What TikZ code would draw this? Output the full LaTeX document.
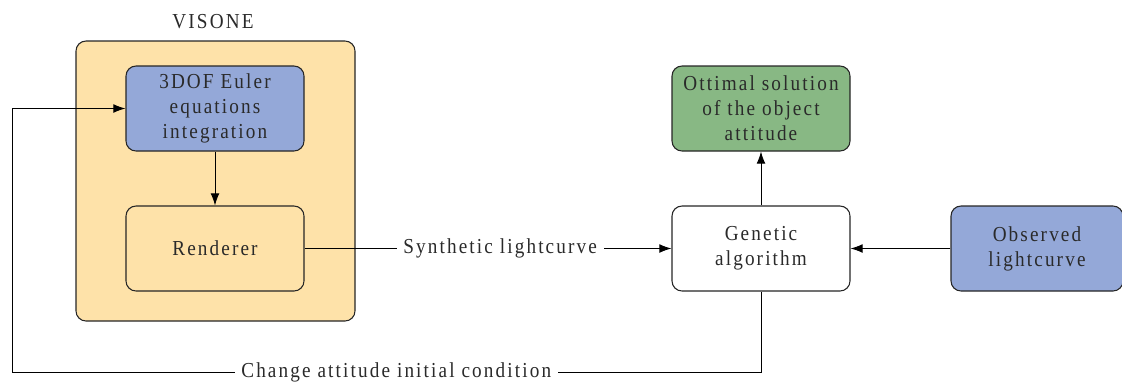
\documentclass[tikz,border=0pt]{standalone}
\usepackage{fontspec}
\setmainfont{Liberation Serif}[FakeStretch=0.9,LetterSpace=10]
\usetikzlibrary{arrows.meta}
\definecolor{sand}{HTML}{FEE2A9}
\definecolor{bluebox}{HTML}{94A8D8}
\definecolor{greenbox}{HTML}{88B884}
\definecolor{txt}{HTML}{2A2A2A}
\tikzset{
  px/.style={x=0.75pt,y=-0.75pt},
  tfont/.style={text=txt,font=\fontsize{16}{18.75}\selectfont},
  blk/.style={draw=black!85,line width=0.8pt,rounded corners=7.5pt,minimum width=133.5pt,minimum height=63.75pt,align=center,inner sep=0pt,tfont},
  conn/.style={draw=black,line width=0.65pt},
  arr/.style={conn,-{Latex[length=9pt,width=6.5pt]}},
  lbl/.style={fill=white,inner xsep=5pt,inner ysep=2pt,tfont}
}
\begin{document}
\begin{tikzpicture}[px]
\useasboundingbox (0,0) rectangle (1122,383);
\node[draw=black!85,line width=0.8pt,rounded corners=7.5pt,fill=sand,minimum width=209.25pt,minimum height=210pt,inner sep=0pt] (visone) at (215.5,181) {};
\node[tfont] (vlabel) at (213,22) {VISONE};
\node[blk,fill=bluebox] (euler) at (215,108.5) {3DOF Euler\\equations\\integration};
\node[blk,fill=sand] (render) at (215,248.5) {Renderer};
\node[blk,fill=greenbox] (opt) at (761,108.5) {Ottimal solution\\of the object\\attitude};
\node[blk,fill=white] (ga) at (761,248.5) {Genetic\\algorithm};
\node[blk,fill=bluebox,minimum width=129pt] (obs) at (1037,248.5) {Observed\\lightcurve};
\coordinate (bl) at (12,372);
\coordinate (tl) at (12,108.5);
\coordinate (br) at (761,372);
\draw[arr] (euler) -- (render);
\draw[arr] (ga) -- (opt);
\draw[arr] (obs) -- (ga);
\draw[arr] (render) -- node[lbl,pos=0.533] (syn) {Synthetic lightcurve} (ga);
\draw[arr] (ga.south) -- (br) -- node[lbl,pos=0.487] (chg) {Change attitude initial condition} (bl) -- (tl) -- (euler.west);
\end{tikzpicture}
\end{document}
